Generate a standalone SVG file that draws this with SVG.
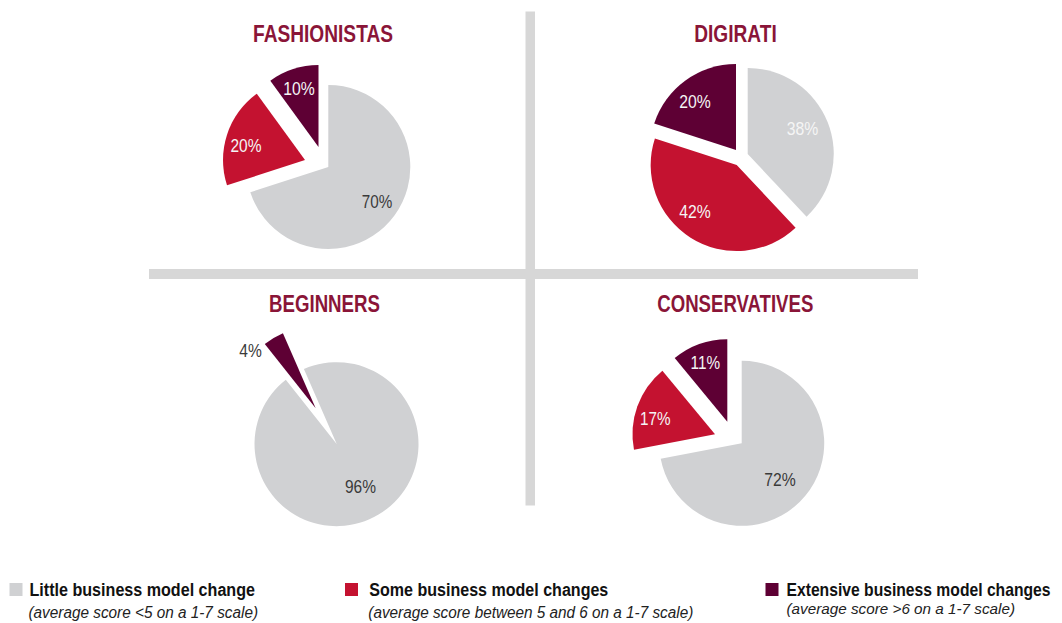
<svg xmlns="http://www.w3.org/2000/svg" width="1062" height="623" viewBox="0 0 1062 623">
<style>
.bg{fill:#ffffff}
.div{fill:#d7d7d7}
.little{fill:#d0d1d3}
.some{fill:#c41230}
.ext{fill:#5e0034}
.title{font-family:"Liberation Sans",Arial,sans-serif;font-weight:bold;font-size:23px;fill:#8a1538;text-anchor:middle}
.pct{font-family:"Liberation Sans",Arial,sans-serif;font-size:18.5px;text-anchor:middle}
.lt{fill:#f5f5f5}
.dk{fill:#3a3a3a}
.lg{font-family:"Liberation Sans",Arial,sans-serif;font-weight:bold;font-size:17.5px;fill:#111111}
.ls{font-family:"Liberation Sans",Arial,sans-serif;font-style:italic;font-size:16px;fill:#222222}
</style>
<rect class="bg" x="0" y="0" width="1062" height="623"/>
<g id="dividers">
<rect class="div" x="525.5" y="11.5" width="9.5" height="494"/>
<rect class="div" x="149" y="269" width="769" height="10"/>
</g>
<g id="fashionistas">
<text class="title" x="323" y="41.5" textLength="140" lengthAdjust="spacingAndGlyphs">FASHIONISTAS</text>
<path class="little" d="M328.3,167 L328.3,85 A82,82 0 1 1 250.3,192.3 Z"/>
<path class="some" d="M305,160 L227,185.3 A82,82 0 0 1 256.8,93.7 Z"/>
<path class="ext" d="M318.5,147 L270.3,80.7 A82,82 0 0 1 318.5,65 Z"/>
<text class="pct lt" x="299" y="95" textLength="31.5" lengthAdjust="spacingAndGlyphs">10%</text>
<text class="pct lt" x="246" y="151.5" textLength="31" lengthAdjust="spacingAndGlyphs">20%</text>
<text class="pct dk" x="377" y="208" textLength="30.5" lengthAdjust="spacingAndGlyphs">70%</text>
</g>
<g id="digirati">
<text class="title" x="735.5" y="41.5" textLength="82.5" lengthAdjust="spacingAndGlyphs">DIGIRATI</text>
<path class="little" d="M747.7,154 L747.7,68 A86,86 0 0 1 806.6,216.7 Z"/>
<path class="some" d="M736.7,165 L795.6,227.7 A86,86 0 0 1 654.9,138.4 Z"/>
<path class="ext" d="M736,150 L654.2,123.4 A86,86 0 0 1 736,64 Z"/>
<text class="pct lt" x="695" y="108.3" textLength="31.5" lengthAdjust="spacingAndGlyphs">20%</text>
<text class="pct lt" x="802.5" y="135" textLength="31.5" lengthAdjust="spacingAndGlyphs">38%</text>
<text class="pct lt" x="695" y="217.7" textLength="31.5" lengthAdjust="spacingAndGlyphs">42%</text>
</g>
<g id="beginners">
<text class="title" x="324.5" y="311.7" textLength="111" lengthAdjust="spacingAndGlyphs">BEGINNERS</text>
<path class="little" d="M336.7,444 L303.9,368.9 A82,82 0 1 1 285.8,379.7 Z"/>
<path class="ext" d="M315.7,408.3 L264.8,344 A82,82 0 0 1 282.9,333.2 Z"/>
<text class="pct dk" x="250.5" y="357.3" textLength="22.5" lengthAdjust="spacingAndGlyphs">4%</text>
<text class="pct dk" x="360.5" y="493.3" textLength="31" lengthAdjust="spacingAndGlyphs">96%</text>
</g>
<g id="conservatives">
<text class="title" x="735.3" y="311.7" textLength="156" lengthAdjust="spacingAndGlyphs">CONSERVATIVES</text>
<path class="little" d="M741.7,443.3 L741.7,360.8 A82.5,82.5 0 1 1 660.7,458.8 Z"/>
<path class="some" d="M715,434.3 L634,449.8 A82.5,82.5 0 0 1 662.4,370.7 Z"/>
<path class="ext" d="M727.3,421.7 L674.7,358.1 A82.5,82.5 0 0 1 727.3,339.2 Z"/>
<text class="pct lt" x="705.3" y="369.3" textLength="29.5" lengthAdjust="spacingAndGlyphs">11%</text>
<text class="pct lt" x="655.3" y="425" textLength="30.5" lengthAdjust="spacingAndGlyphs">17%</text>
<text class="pct dk" x="780" y="486" textLength="31.5" lengthAdjust="spacingAndGlyphs">72%</text>
</g>
<g id="legend">
<g id="legend-little">
<rect class="little" x="9.5" y="583" width="13" height="13"/>
<text class="lg" x="29.5" y="596" textLength="225.5" lengthAdjust="spacingAndGlyphs">Little business model change</text>
<text class="ls" x="28.5" y="618" textLength="229.5" lengthAdjust="spacingAndGlyphs">(average score &lt;5 on a 1-7 scale)</text>
</g>
<g id="legend-some">
<rect class="some" x="345" y="583" width="13" height="13"/>
<text class="lg" x="369.3" y="596" textLength="239" lengthAdjust="spacingAndGlyphs">Some business model changes</text>
<text class="ls" x="368.3" y="618" textLength="325" lengthAdjust="spacingAndGlyphs">(average score between 5 and 6 on a 1-7 scale)</text>
</g>
<g id="legend-extensive">
<rect class="ext" x="765.5" y="583" width="13" height="13"/>
<text class="lg" x="0" y="0" transform="translate(786.5 596) scale(1 1.13)" style="font-size:15.5px" textLength="264" lengthAdjust="spacingAndGlyphs">Extensive business model changes</text>
<text class="ls" x="786.5" y="614" style="font-size:15px" textLength="228.5" lengthAdjust="spacingAndGlyphs">(average score &gt;6 on a 1-7 scale)</text>
</g>
</g>
</svg>
